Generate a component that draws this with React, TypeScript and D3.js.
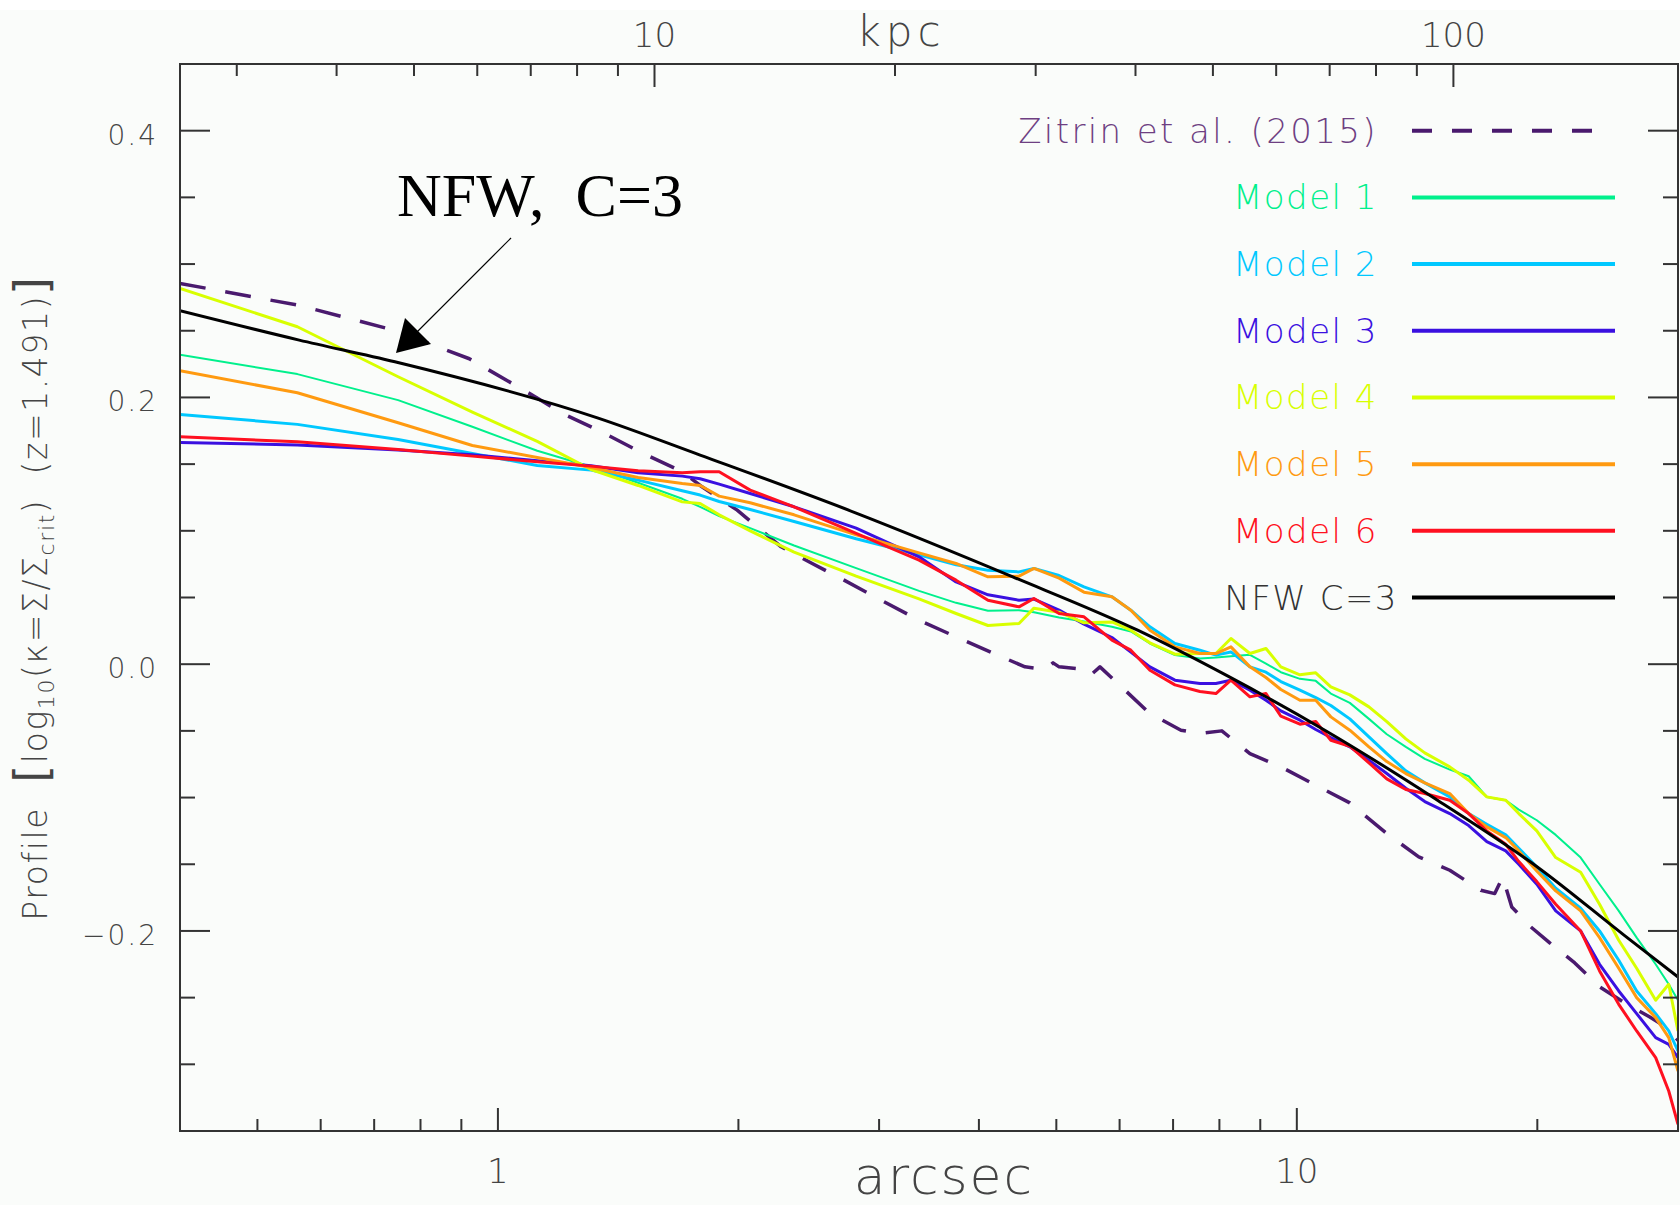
import * as d3 from "d3";

// ---------- data (arcsec, log10 kappa) ----------

const radii = [0.4, 0.561, 0.75, 0.929, 1.12, 1.308, 1.498, 1.701, 1.791, 1.892, 2.069, 2.348, 2.808, 3.366, 3.745, 4.106, 4.49, 4.688, 5.04, 5.415, 5.869, 6.198, 6.548, 7.038, 7.564, 7.92, 8.27, 8.736, 9.149, 9.55, 10.09, 10.56, 11.03, 11.65, 12.31, 12.96, 13.69, 14.46, 15.54, 16.41, 17.29, 18.26, 18.96, 19.97, 21.09, 22.66, 23.93, 25.29, 26.63, 28.13, 29.21, 30]

const model1 = [0.232, 0.2175, 0.198, 0.178, 0.16, 0.148, 0.136, 0.124, 0.118, 0.111, 0.102, 0.089, 0.072, 0.055, 0.046, 0.04, 0.0405, 0.039, 0.035, 0.032, 0.028, 0.0245, 0.0155, 0.0068, 0.0043, 0.005, 0.006, 0.007, 0.0005, -0.006, -0.011, -0.0125, -0.022, -0.029, -0.041, -0.0525, -0.062, -0.071, -0.079, -0.084, -0.0995, -0.102, -0.109, -0.117, -0.128, -0.145, -0.165, -0.185, -0.205, -0.225, -0.24, -0.252]
const model2 = [0.1873, 0.1798, 0.1685, 0.158, 0.149, 0.1455, 0.138, 0.13, 0.1268, 0.122, 0.116, 0.107, 0.094, 0.082, 0.0745, 0.0705, 0.0692, 0.0718, 0.0665, 0.058, 0.0505, 0.0405, 0.028, 0.0155, 0.0105, 0.0068, 0.0092, -0.002, -0.006, -0.013, -0.0195, -0.025, -0.031, -0.041, -0.0545, -0.067, -0.08, -0.089, -0.0995, -0.112, -0.12, -0.128, -0.138, -0.152, -0.168, -0.183, -0.2, -0.222, -0.245, -0.262, -0.275, -0.29]
const model3 = [0.1663, 0.1643, 0.1605, 0.157, 0.1525, 0.1488, 0.1435, 0.141, 0.139, 0.135, 0.128, 0.118, 0.102, 0.0805, 0.0617, 0.052, 0.048, 0.0488, 0.0405, 0.03, 0.02, 0.009, -0.002, -0.012, -0.0145, -0.0145, -0.012, -0.0195, -0.027, -0.035, -0.042, -0.049, -0.055, -0.062, -0.072, -0.082, -0.093, -0.103, -0.112, -0.121, -0.133, -0.14, -0.15, -0.165, -0.185, -0.2, -0.225, -0.245, -0.262, -0.28, -0.285, -0.295]
const model4 = [0.2818, 0.253, 0.2155, 0.189, 0.167, 0.146, 0.134, 0.1217, 0.1205, 0.112, 0.1, 0.084, 0.066, 0.049, 0.038, 0.029, 0.0305, 0.042, 0.039, 0.031, 0.0317, 0.0255, 0.016, 0.0075, 0.008, 0.008, 0.0193, 0.008, 0.0118, -0.002, -0.008, -0.0065, -0.017, -0.023, -0.032, -0.043, -0.056, -0.0665, -0.077, -0.087, -0.0995, -0.102, -0.112, -0.125, -0.145, -0.156, -0.18, -0.207, -0.228, -0.252, -0.24, -0.275]
const model5 = [0.22, 0.2035, 0.181, 0.164, 0.155, 0.1475, 0.14, 0.1355, 0.134, 0.126, 0.121, 0.112, 0.097, 0.0835, 0.0755, 0.0655, 0.066, 0.0718, 0.0645, 0.054, 0.0505, 0.0405, 0.0255, 0.013, 0.008, 0.008, 0.013, -0.002, -0.01, -0.019, -0.027, -0.027, -0.0395, -0.0495, -0.062, -0.073, -0.082, -0.089, -0.097, -0.112, -0.122, -0.13, -0.14, -0.155, -0.17, -0.185, -0.205, -0.228, -0.25, -0.265, -0.28, -0.305]
const model6 = [0.1705, 0.1668, 0.161, 0.156, 0.1518, 0.1485, 0.145, 0.1435, 0.1443, 0.1443, 0.1305, 0.118, 0.098, 0.078, 0.063, 0.048, 0.043, 0.0493, 0.038, 0.0355, 0.018, 0.0105, -0.0045, -0.0155, -0.0205, -0.022, -0.012, -0.0245, -0.022, -0.039, -0.045, -0.043, -0.057, -0.0615, -0.074, -0.086, -0.094, -0.097, -0.102, -0.112, -0.125, -0.135, -0.148, -0.163, -0.18, -0.2, -0.23, -0.255, -0.275, -0.295, -0.32, -0.345]

const zitrinR = [0.4, 0.564, 0.74, 0.921, 1.117, 1.204, 1.335, 1.52, 1.705, 1.791, 1.993, 2.262, 2.474, 2.712, 3.017, 3.366, 3.745, 4.178, 4.568, 4.84, 4.953, 5.04, 5.43, 5.525, 5.67, 6.095, 6.548, 7.161, 7.564, 8.056, 8.736, 9.55, 10.66, 11.65, 12.96, 14.21, 15.54, 16.99, 17.69, 18.1, 18.58, 19.63, 20.73, 22.28, 23.94, 25.73, 27.66, 28.96, 30]
const zitrinV = [0.2855, 0.269, 0.2505, 0.229, 0.2, 0.188, 0.1755, 0.158, 0.144, 0.134, 0.1155, 0.088, 0.0755, 0.063, 0.048, 0.033, 0.0205, 0.008, -0.002, -0.004, 0.001, -0.002, -0.004, -0.008, -0.002, -0.0195, -0.037, -0.0495, -0.052, -0.05, -0.067, -0.077, -0.092, -0.104, -0.127, -0.1445, -0.1545, -0.1695, -0.172, -0.1595, -0.182, -0.197, -0.209, -0.224, -0.242, -0.254, -0.2645, -0.272, -0.282]

const nfwR = [0.4, 0.564, 0.743, 1.335, 1.791, 2.808, 4.41, 6.32, 8.2, 10.84, 15.0, 20.0, 25.7, 30]
const nfwV = [0.265, 0.243, 0.2267, 0.1845, 0.1568, 0.1133, 0.0655, 0.0255, -0.009, -0.0495, -0.102, -0.152, -0.2033, -0.2345]

const modelNames = ["Model 1", "Model 2", "Model 3", "Model 4", "Model 5", "Model 6"]
const modelColors = ["#00f08c", "#00c8ff", "#3a10e0", "#d8ff00", "#ff9a10", "#ff1020"]
const modelWidths = [2, 3, 3, 3, 3, 3]
const modelValues = [model1, model2, model3, model4, model5, model6]

const xMajor = [1, 10]
const xMinor = [0.5, 0.6, 0.7, 0.8, 0.9, 2, 3, 4, 5, 6, 7, 8, 9, 20]
const kpcMajor = [10, 100]
const kpcMinor = [3, 4, 5, 6, 7, 8, 9, 20, 30, 40, 50, 60, 70, 80, 90]
const yMajor = [-0.2, 0.0, 0.2, 0.4]
const yMinor = [-0.3, -0.25, -0.15, -0.1, -0.05, 0.05, 0.1, 0.15, 0.25, 0.3, 0.35]
const KPC_PER_ARCSEC = 6.368

// ---------- layout ----------
const W = 1680
const H = 1205
const LEFT = 180
const RIGHT = 1678
const TOP = 64
const BOTTOM = 1131

const thin = "'DejaVu Sans', 'Liberation Sans', sans-serif"
const axisInk = "#333"

export default function App() {

    let X = d3.scaleLog().domain([0.4, 30]).range([LEFT, RIGHT])
    let Xk = d3.scaleLog().domain([0.4 * KPC_PER_ARCSEC, 30 * KPC_PER_ARCSEC]).range([LEFT, RIGHT])
    let Y = d3.scaleLinear().domain([-0.35, 0.45]).range([BOTTOM, TOP])

    let line = d3.line<[number, number]>()
        .x(d => X(d[0]))
        .y(d => Y(d[1]))

    let nfwLine = d3.line<[number, number]>()
        .x(d => X(d[0]))
        .y(d => Y(d[1]))
        .curve(d3.curveMonotoneX)

    let fmt = (v: number) => (v < 0 ? "\u2212" : "") + Math.abs(v).toFixed(1)

    // legend rows sit on the minor tick grid, top down from 0.4
    let rowStep = Y(0.35) - Y(0.4)
    let legendRows = [
        { name: "Zitrin et al. (2015)", color: "#4a1a6e", text: "#6e3f82", dash: "20 20", spacing: 2.4, anchor: 1378 },
        ...modelNames.map((n, i) => ({ name: n, color: modelColors[i], text: modelColors[i], dash: "", spacing: 1.5, anchor: 1378 })),
        { name: "NFW C=3", color: "#000", text: "#333", dash: "", spacing: 1.5, anchor: 1398 },
    ]

    return (
        <div style={{ position: "absolute", left: 0, top: 0 }}>
            <svg width={W} height={H} style={{ display: "block" }}>
                <rect x={0} y={0} width={W} height={H} fill="#fafcfa" />
                <rect x={0} y={0} width={W} height={10} fill="#ffffff" />

                <defs>
                    <clipPath id="plotClip">
                        <rect x={LEFT} y={TOP} width={RIGHT - LEFT} height={BOTTOM - TOP} />
                    </clipPath>
                </defs>

                {/* ---------- curves ---------- */}
                <g clipPath="url(#plotClip)" fill="none" strokeLinejoin="round">
                    <path d={line(d3.zip(zitrinR, zitrinV) as any) || ""}
                        stroke="#4a1a6e" strokeWidth={3.5} strokeDasharray="26 20" />
                    {modelValues.map((vals, i) => (
                        <path key={i} d={line(d3.zip(radii, vals) as any) || ""}
                            stroke={modelColors[i]} strokeWidth={modelWidths[i]} />
                    ))}
                    <path d={nfwLine(d3.zip(nfwR, nfwV) as any) || ""} stroke="#000" strokeWidth={3} />
                </g>

                {/* ---------- frame + ticks ---------- */}
                <rect x={LEFT} y={TOP} width={RIGHT - LEFT} height={BOTTOM - TOP}
                    fill="none" stroke={axisInk} strokeWidth={2} />

                <g stroke={axisInk} strokeWidth={2}>
                    {xMajor.map(v => <line key={"xb" + v} x1={X(v)} x2={X(v)} y1={BOTTOM} y2={BOTTOM - 23} />)}
                    {xMinor.map(v => <line key={"xbm" + v} x1={X(v)} x2={X(v)} y1={BOTTOM} y2={BOTTOM - 12} />)}
                    {kpcMajor.map(v => <line key={"kt" + v} x1={Xk(v)} x2={Xk(v)} y1={TOP} y2={TOP + 23} />)}
                    {kpcMinor.map(v => <line key={"ktm" + v} x1={Xk(v)} x2={Xk(v)} y1={TOP} y2={TOP + 12} />)}
                    {yMajor.map(v => (
                        <g key={"ym" + v}>
                            <line x1={LEFT} x2={LEFT + 30} y1={Y(v)} y2={Y(v)} />
                            <line x1={RIGHT} x2={RIGHT - 30} y1={Y(v)} y2={Y(v)} />
                        </g>
                    ))}
                    {yMinor.map(v => (
                        <g key={"yn" + v}>
                            <line x1={LEFT} x2={LEFT + 15} y1={Y(v)} y2={Y(v)} />
                            <line x1={RIGHT} x2={RIGHT - 15} y1={Y(v)} y2={Y(v)} />
                        </g>
                    ))}
                </g>

                {/* ---------- tick labels ---------- */}
                <g fontFamily={thin} fontWeight={200} fill="#444">
                    {yMajor.map(v => (
                        <text key={"yl" + v} x={158} y={Y(v) + 14} fontSize={28}
                            letterSpacing={2} textAnchor="end">{fmt(v)}</text>
                    ))}
                    {xMajor.map(v => (
                        <text key={"xl" + v} x={X(v)} y={1183} fontSize={34} textAnchor="middle">{v}</text>
                    ))}
                    {kpcMajor.map(v => (
                        <text key={"kl" + v} x={Xk(v)} y={47} fontSize={34} textAnchor="middle">{v}</text>
                    ))}
                    <text x={901} y={46} fontSize={42} letterSpacing={5} textAnchor="middle">kpc</text>
                    <text x={944} y={1194} fontSize={52} letterSpacing={2} textAnchor="middle">arcsec</text>

                    <text transform="translate(47,598) rotate(-90)" fontSize={33} textAnchor="middle"
                        letterSpacing={1.6} style={{ whiteSpace: "pre" }}>
                        <tspan>{"Profile  "}</tspan>
                        <tspan fontSize={46} fontWeight={400}>[</tspan>
                        <tspan>log</tspan>
                        <tspan dy={7} fontSize={22}>10</tspan>
                        <tspan dy={-7}>(κ=Σ/Σ</tspan>
                        <tspan dy={7} fontSize={22}>crit</tspan>
                        <tspan dy={-7}>{")  (z=1.491)"}</tspan>
                        <tspan fontSize={46} fontWeight={400}>]</tspan>
                    </text>
                </g>

                {/* ---------- legend ---------- */}
                <g fontFamily={thin} fontWeight={200}>
                    {legendRows.map((r, i) => {
                        let yy = Y(0.4) + i * rowStep
                        return (
                            <g key={r.name}>
                                <text x={r.anchor} y={yy + 12} fontSize={34} letterSpacing={r.spacing}
                                    textAnchor="end" fill={r.text}>{r.name}</text>
                                <line x1={1412} x2={r.dash ? 1598 : 1615} y1={yy} y2={yy}
                                    stroke={r.color} strokeWidth={4} strokeDasharray={r.dash || undefined} />
                            </g>
                        )
                    })}
                </g>

                {/* ---------- annotation ---------- */}
                <text x={397} y={216} fontFamily="'Liberation Serif', 'DejaVu Serif', serif" fontSize={62}
                    fill="#000" style={{ whiteSpace: "pre" }}>{"NFW,  C=3"}</text>
                <line x1={511} y1={238} x2={411} y2={338} stroke="#000" strokeWidth={1.2} />
                <polygon points="396,353 405,318 431,344" fill="#000" />
            </svg>
        </div>
    )
}
